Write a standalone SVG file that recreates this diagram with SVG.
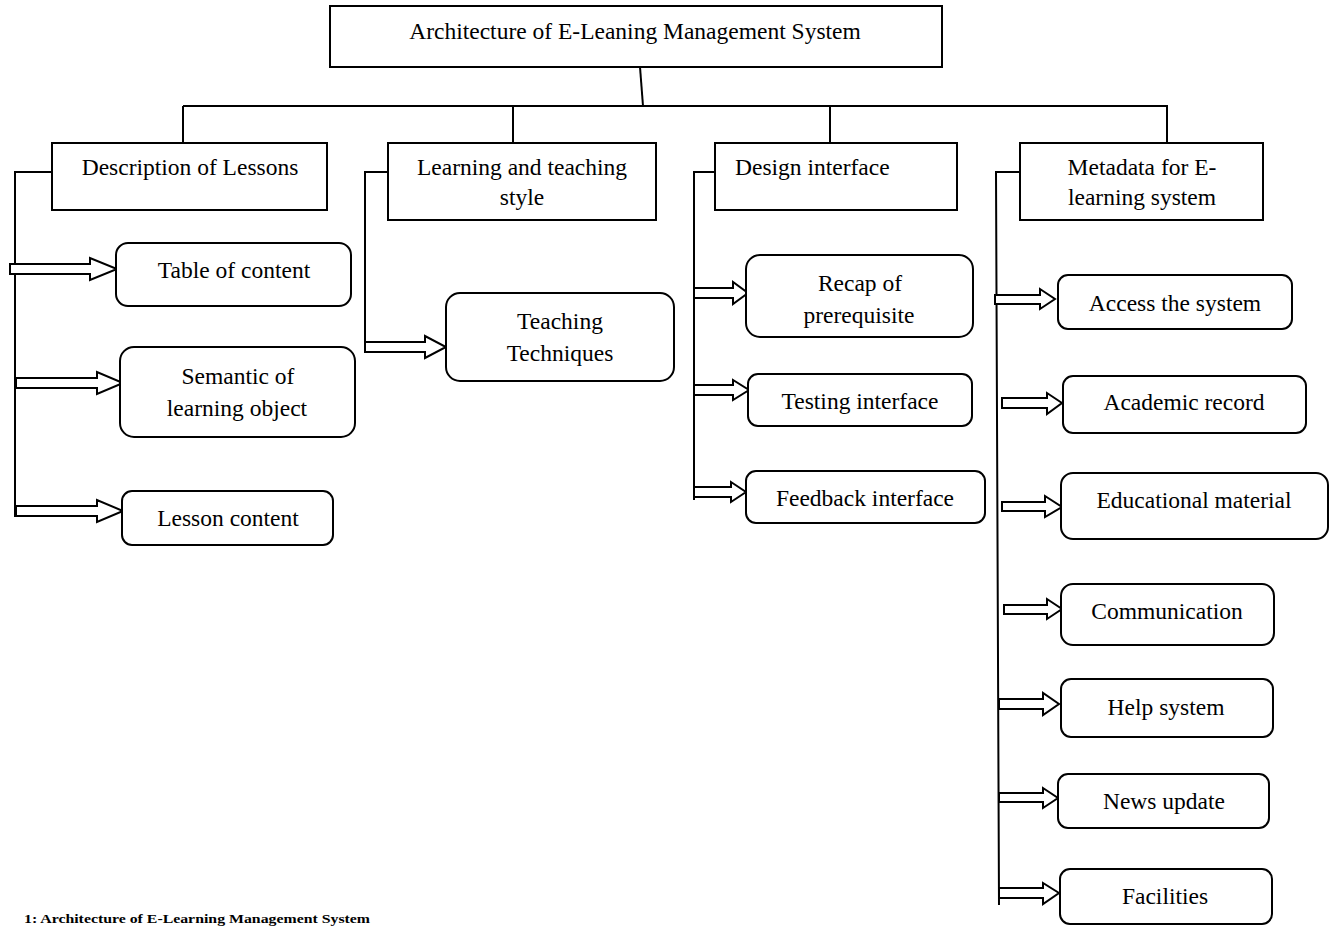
<svg xmlns="http://www.w3.org/2000/svg" width="1336" height="926" viewBox="0 0 1336 926">
<style>
.bx{fill:#fff;stroke:#000;stroke-width:2}
.rb{fill:#fff;stroke:#000;stroke-width:2}
.ln{fill:none;stroke:#000;stroke-width:2}
.ar{fill:#fff;stroke:#000;stroke-width:2;stroke-linejoin:miter}
text{font-family:"Liberation Serif","Times New Roman",serif;font-size:23.5px;fill:#000}
.c{text-anchor:middle}
.cap{font-weight:bold;font-size:12px}
</style>
<rect width="1336" height="926" fill="#fff"/>
<g id="connectors">
<polyline class="ln" points="640,67 643,106"/>
<line class="ln" x1="183" y1="106" x2="1168" y2="106"/>
<line class="ln" x1="183" y1="106" x2="183" y2="143"/>
<line class="ln" x1="513" y1="106" x2="513" y2="143"/>
<line class="ln" x1="830" y1="106" x2="830" y2="143"/>
<line class="ln" x1="1167" y1="106" x2="1167" y2="143"/>
<polyline class="ln" points="52,172 15,172 15,517"/>
<polyline class="ln" points="388,172 365,172 365,352"/>
<polyline class="ln" points="715,172 694,172 694,500"/>
<polyline class="ln" points="1020,172 996,172 999,905"/>
<polygon class="ar" points="10,264 90,264 90,258 117,269 90,280 90,274 10,274"/>
<polygon class="ar" points="16,378 97,378 97,372 123,383 97,394 97,388 16,388"/>
<polygon class="ar" points="16,506 97,506 97,500 123,511 97,522 97,516 16,516"/>
<polygon class="ar" points="365,342 425,342 425,336 446,347 425,358 425,352 365,352"/>
<polygon class="ar" points="694,288 733,288 733,282 748,293 733,304 733,298 694,298"/>
<polygon class="ar" points="694,385 733,385 733,380 749,390 733,400 733,395 694,395"/>
<polygon class="ar" points="694,487 731,487 731,482 746,492 731,502 731,497 694,497"/>
<polygon class="ar" points="995,295 1040,295 1040,289 1055,299 1040,309 1040,304 995,304"/>
<polygon class="ar" points="1002,398 1047,398 1047,393 1062,403 1047,414 1047,408 1002,408"/>
<polygon class="ar" points="1002,502 1045,502 1045,496 1062,507 1045,517 1045,511 1002,511"/>
<polygon class="ar" points="1004,605 1047,605 1047,599 1062,609 1047,619 1047,614 1004,614"/>
<polygon class="ar" points="999,699 1043,699 1043,693 1059,704 1043,715 1043,709 999,709"/>
<polygon class="ar" points="999,793 1043,793 1043,788 1058,798 1043,808 1043,802 999,802"/>
<polygon class="ar" points="999,888 1043,888 1043,883 1059,893 1043,904 1043,898 999,898"/>
</g>
<g id="root"><rect class="bx" x="330" y="6" width="612" height="61"/><text class="c" x="635" y="39">Architecture of E-Leaning Management System</text></g>
<g id="desc"><rect class="bx" x="52" y="143" width="275" height="67"/><text class="c" x="190" y="175">Description of Lessons</text></g>
<g id="learn"><rect class="bx" x="388" y="143" width="268" height="77"/><text class="c" x="522" y="175">Learning and teaching</text><text class="c" x="522" y="205">style</text></g>
<g id="design"><rect class="bx" x="715" y="143" width="242" height="67"/><text x="735" y="175">Design interface</text></g>
<g id="meta"><rect class="bx" x="1020" y="143" width="243" height="77"/><text class="c" x="1142" y="175">Metadata for E-</text><text class="c" x="1142" y="205">learning system</text></g>
<g id="toc"><rect class="rb" x="116" y="243" width="235" height="63" rx="12"/><text class="c" x="234" y="278">Table of content</text></g>
<g id="semantic"><rect class="rb" x="120" y="347" width="235" height="90" rx="14"/><text class="c" x="238" y="384">Semantic of</text><text class="c" x="237" y="416">learning object</text></g>
<g id="lesson"><rect class="rb" x="122" y="491" width="211" height="54" rx="10"/><text class="c" x="228" y="526">Lesson content</text></g>
<g id="teaching"><rect class="rb" x="446" y="293" width="228" height="88" rx="14"/><text class="c" x="560" y="329">Teaching</text><text class="c" x="560" y="361">Techniques</text></g>
<g id="recap"><rect class="rb" x="746" y="255" width="227" height="82" rx="14"/><text class="c" x="860" y="291">Recap of</text><text class="c" x="859" y="323">prerequisite</text></g>
<g id="testing"><rect class="rb" x="748" y="374" width="224" height="52" rx="10"/><text class="c" x="860" y="409">Testing interface</text></g>
<g id="feedback"><rect class="rb" x="746" y="471" width="239" height="52" rx="10"/><text class="c" x="865" y="506">Feedback interface</text></g>
<g id="access"><rect class="rb" x="1058" y="275" width="234" height="54" rx="10"/><text class="c" x="1175" y="311">Access the system</text></g>
<g id="academic"><rect class="rb" x="1063" y="376" width="243" height="57" rx="10"/><text class="c" x="1184" y="410">Academic record</text></g>
<g id="edu"><rect class="rb" x="1061" y="473" width="267" height="66" rx="12"/><text class="c" x="1194" y="508">Educational material</text></g>
<g id="comm"><rect class="rb" x="1061" y="584" width="213" height="61" rx="12"/><text class="c" x="1167" y="619">Communication</text></g>
<g id="help"><rect class="rb" x="1061" y="679" width="212" height="58" rx="10"/><text class="c" x="1166" y="715">Help system</text></g>
<g id="news"><rect class="rb" x="1058" y="774" width="211" height="54" rx="10"/><text class="c" x="1164" y="809">News update</text></g>
<g id="facilities"><rect class="rb" x="1060" y="869" width="212" height="55" rx="10"/><text class="c" x="1165" y="904">Facilities</text></g>
<text class="cap" x="24" y="923" textLength="346" lengthAdjust="spacingAndGlyphs">1:  Architecture of E-Learning Management System</text>
</svg>
